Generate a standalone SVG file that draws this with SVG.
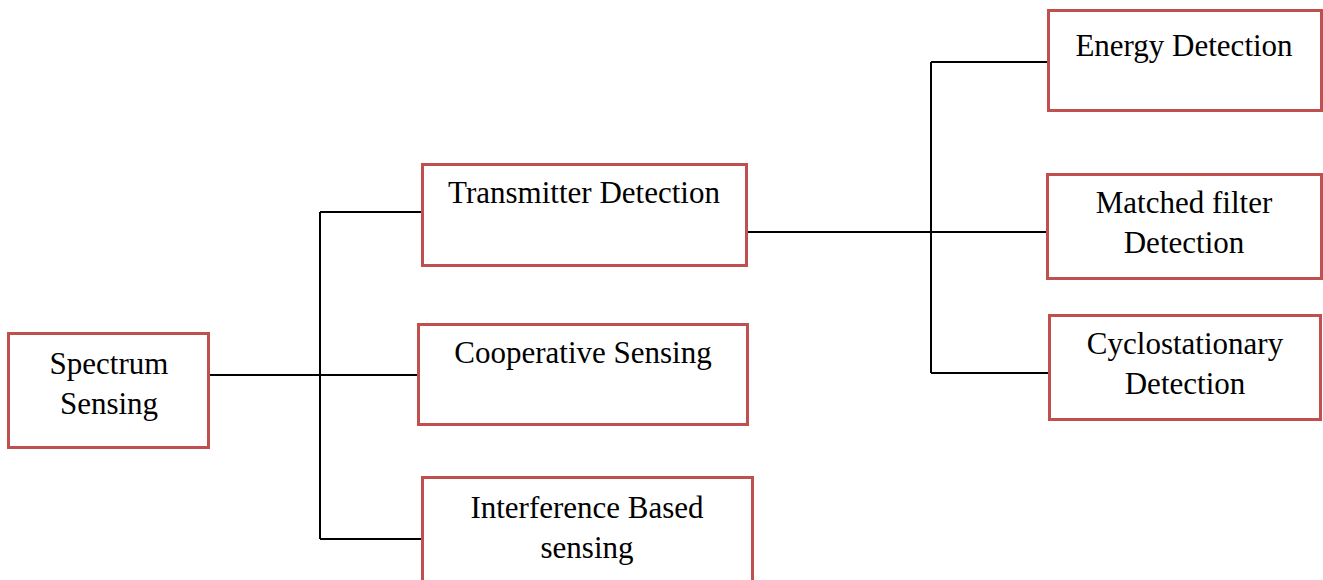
<svg xmlns="http://www.w3.org/2000/svg" width="1323" height="580" viewBox="0 0 1323 580">
<style>
.box{fill:#fff;stroke:#c0504d;stroke-width:3}
.t{font-family:"Liberation Serif","Times New Roman",serif;font-size:31px;fill:#000;text-anchor:middle}
.c{stroke:#000;stroke-width:2;fill:none}
</style>
<rect width="1323" height="580" fill="#fff"/>
<g id="connectors">
<path class="c" d="M209 375H418"/>
<path class="c" d="M320 212V539"/>
<path class="c" d="M320 212H422"/>
<path class="c" d="M320 539H422"/>
<path class="c" d="M747 232H1050"/>
<path class="c" d="M931 62V373"/>
<path class="c" d="M931 62H1050"/>
<path class="c" d="M931 373H1049"/>
</g>
<g id="spectrum"><rect class="box" x="8.5" y="333.5" width="200" height="114"/><text class="t" x="109" y="374">Spectrum</text><text class="t" x="109" y="414">Sensing</text></g>
<g id="transmitter"><rect class="box" x="422.5" y="164.5" width="324" height="101"/><text class="t" x="584" y="203">Transmitter Detection</text></g>
<g id="cooperative"><rect class="box" x="418.5" y="324.5" width="329" height="100"/><text class="t" x="583" y="363">Cooperative Sensing</text></g>
<g id="interference"><rect class="box" x="422.5" y="477.5" width="330" height="110"/><text class="t" x="587" y="518">Interference Based</text><text class="t" x="587" y="558">sensing</text></g>
<g id="energy"><rect class="box" x="1048.5" y="10.5" width="273" height="100"/><text class="t" x="1184" y="56">Energy Detection</text></g>
<g id="matched"><rect class="box" x="1047.5" y="174.5" width="274" height="104"/><text class="t" x="1184" y="213">Matched filter</text><text class="t" x="1184" y="253">Detection</text></g>
<g id="cyclo"><rect class="box" x="1049.5" y="315.5" width="271" height="104"/><text class="t" x="1185" y="354">Cyclostationary</text><text class="t" x="1185" y="394">Detection</text></g>
</svg>
